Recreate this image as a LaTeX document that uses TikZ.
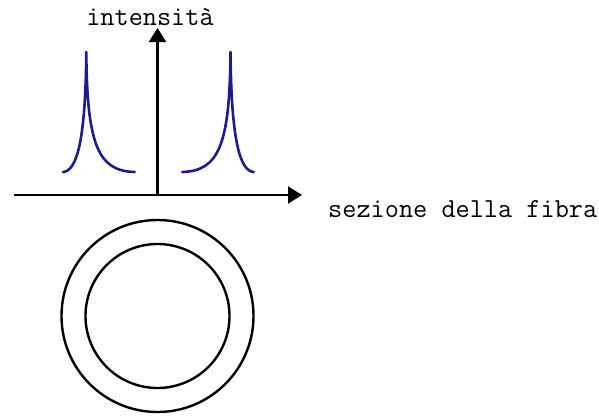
\documentclass[tikz,border=0pt]{standalone}
\usepackage{fontspec}
\usetikzlibrary{arrows.meta}
\definecolor{peakblue}{RGB}{28,28,145}
\begin{document}
\begin{tikzpicture}[x=1pt,y=-1pt,
  axis/.style={line width=2.2pt,-{Triangle[length=14pt,width=17pt]}},
  ring/.style={draw,line width=2.4pt},
  peak/.style={peakblue,line width=2.6pt,line join=round,line cap=round},
  lbl/.style={font=\fontsize{27.5}{30}\selectfont\ttfamily,inner sep=0pt}]
\useasboundingbox (0,0) rectangle (599,415);
% axes
\coordinate (o) at (157.5,195);
\coordinate (xs) at (14,195);
\coordinate (xe) at (302,195);
\coordinate (ye) at (157.5,28);
\draw[axis] (xs) -- (xe);
\draw[axis] (o) -- (ye);
\node[lbl,anchor=base] (ylab) at (150,25) {intensità};
\node[lbl,anchor=base west] (xlab) at (328,217) {sezione della fibra};
% left peak
\draw[peak] (63,172) .. controls (76,171) and (85.5,145) .. (86.3,52)
                     .. controls (87,145) and (98,171) .. (134.7,172);
% right peak (mirror)
\draw[peak] (182.1,172) .. controls (218.8,171) and (229.8,145) .. (230.5,52)
                        .. controls (231.3,145) and (240.8,171) .. (253.8,172);
% fibre section
\node[ring,circle,minimum size=192pt,inner sep=0pt] (clad) at (157.5,316) {};
\node[ring,circle,minimum size=144pt,inner sep=0pt] (core) at (157.5,316) {};
\end{tikzpicture}
\end{document}
